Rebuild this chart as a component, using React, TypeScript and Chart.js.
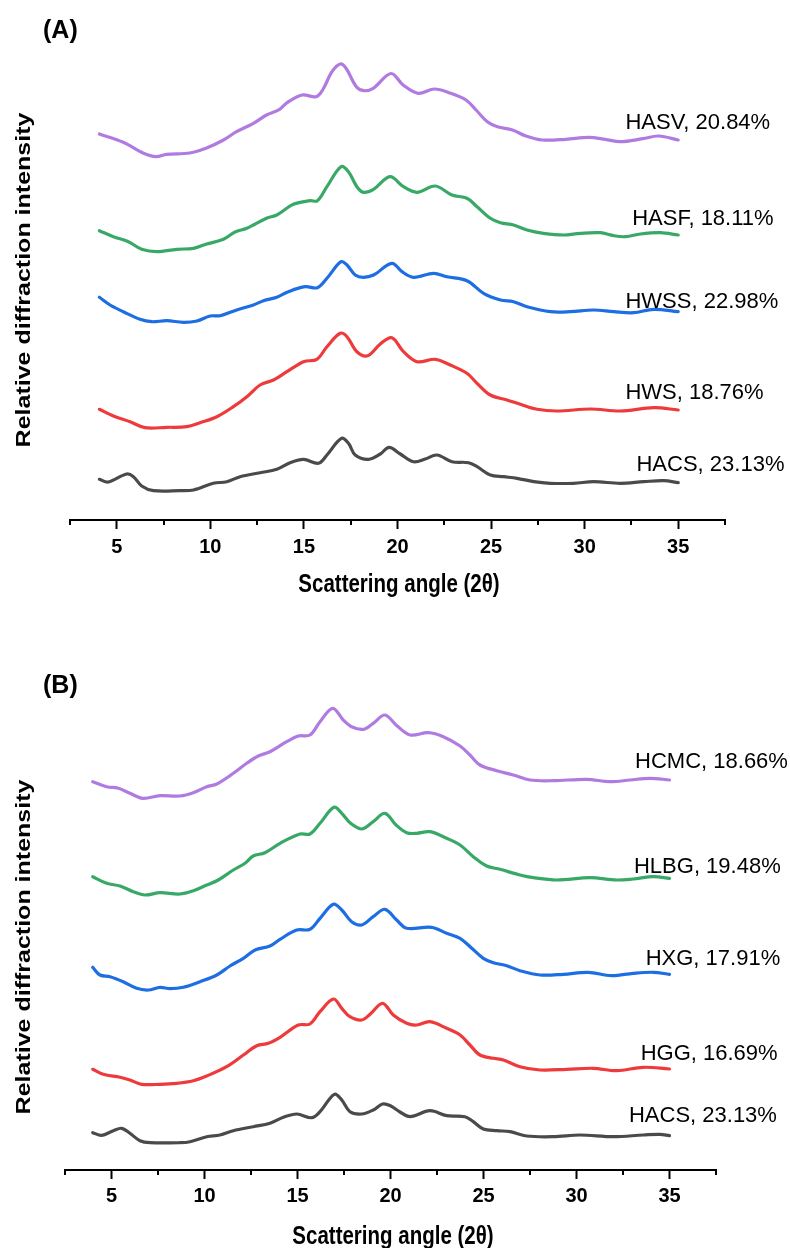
import React, { useEffect, useRef } from 'react';
import { Chart, registerables } from 'chart.js';

Chart.register(...registerables);

// ---------- DATA (2θ in degrees, relative intensity in arbitrary units, curves stacked) ----------
const thetaMin = 2.5;
const thetaMax = 37.5;
const thetaStep = 2.5;

const namesA = ['HASV, 20.84%', 'HASF, 18.11%', 'HWSS, 22.98%', 'HWS, 18.76%', 'HACS, 23.13%'];
const namesB = ['HCMC, 18.66%', 'HLBG, 19.48%', 'HXG, 17.91%', 'HGG, 16.69%', 'HACS, 23.13%'];

const A_HASV: [number, number][] = [
  [4.07, 386], [5.35, 377.7], [6.4, 367], [7.1, 363.3], [7.65, 365.7], [8.9, 367], [9.8, 372],
  [10.7, 380], [11.4, 388.3], [12.3, 396.7], [13.0, 405], [13.7, 410.7], [14.1, 417.3], [14.9, 425],
  [15.66, 423.3], [16.0, 430], [16.5, 448.3], [16.94, 456], [17.25, 451.7], [17.8, 433.3], [18.2, 429.3],
  [18.7, 431.7], [19.65, 446.5], [20.3, 435], [21.1, 426.7], [21.97, 431], [22.85, 426.7], [23.66, 420],
  [24.2, 410], [24.8, 398.3], [25.34, 393.3], [26.14, 390], [26.86, 384], [27.74, 380], [28.99, 380.7],
  [30.23, 382.7], [31.1, 380.7], [31.9, 378.3], [33.1, 381.3], [33.96, 384], [35.0, 380],
];
const A_HASF: [number, number][] = [
  [4.07, 289.3], [4.82, 283.3], [5.62, 278.3], [6.33, 270.7], [7.14, 268.3], [8.2, 270.7], [9.1, 271.7],
  [9.8, 276], [10.7, 280.7], [11.32, 288], [11.95, 291.7], [13.0, 301.7], [13.55, 305], [14.44, 315.7],
  [15.33, 319.3], [15.72, 319.3], [16.23, 333.3], [16.98, 353.3], [17.38, 348.3], [17.83, 333.3],
  [18.18, 327.7], [18.72, 330.7], [19.6, 343.3], [20.32, 333.3], [21.04, 327.7], [22.02, 334], [22.91, 325],
  [23.71, 321.7], [24.25, 313.3], [24.96, 301.7], [25.5, 297.3], [26.2, 295], [26.92, 290], [27.8, 286.7],
  [28.88, 285], [29.77, 286.7], [30.84, 287.3], [31.55, 284.3], [32.18, 283.3], [32.98, 286], [34.05, 287.3],
  [35.0, 285],
];
const A_HWSS: [number, number][] = [
  [4.07, 222.7], [4.64, 215], [5.35, 208.3], [6.24, 200.7], [6.87, 198.3], [7.67, 199.3], [8.56, 197.7],
  [9.28, 199], [9.99, 204], [10.52, 204.3], [11.41, 210], [12.3, 215], [12.84, 219.3], [13.55, 222.7],
  [14.17, 228.3], [15.07, 233.3], [15.72, 232.3], [16.23, 241.7], [16.98, 258.3], [17.3, 255], [17.74, 245],
  [18.18, 242.7], [18.72, 245], [19.7, 256.7], [20.24, 248.3], [20.86, 242.7], [21.93, 246.7], [22.64, 243.3],
  [23.71, 239.3], [24.6, 226.7], [25.5, 220], [26.2, 218.3], [26.92, 213.3], [28.17, 208.3], [29.24, 208.3],
  [30.48, 210], [31.55, 208.3], [32.62, 207.3], [33.69, 210.7], [35.0, 208.3],
];
const A_HWS: [number, number][] = [
  [4.07, 110.7], [4.82, 104], [5.71, 98.3], [6.51, 92.3], [7.67, 92.7], [8.74, 93.3], [9.45, 97.3],
  [10.35, 103.3], [11.23, 113.3], [11.95, 123.3], [12.66, 135], [13.37, 140], [14.09, 148.3], [14.98, 158.3],
  [15.69, 160.7], [16.23, 173.3], [16.94, 186.7], [17.3, 183.3], [17.83, 168.3], [18.4, 164.3], [19.08, 176],
  [19.7, 182.3], [20.32, 168.3], [21.04, 158.3], [22.02, 160.7], [22.82, 155], [23.71, 146.7], [24.25, 136.7],
  [24.96, 125], [25.85, 120], [26.56, 115.7], [27.46, 110.7], [28.53, 109], [30.31, 111], [31.91, 109],
  [33.69, 112.3], [35.0, 110],
];
const A_HACS: [number, number][] = [
  [4.07, 40.7], [4.55, 38], [5.53, 46], [5.89, 43.3], [6.33, 34], [6.96, 29.3], [8.38, 29.3], [9.1, 30],
  [10.16, 36.7], [10.88, 38.3], [11.59, 43.3], [12.66, 47.3], [13.55, 50.7], [14.26, 57.3], [14.98, 60.7],
  [15.78, 56.7], [16.23, 65], [17.0, 81.7], [17.38, 76.7], [17.74, 65], [18.45, 60.7], [19.08, 66],
  [19.55, 72.7], [20.15, 66], [20.86, 58.3], [21.48, 61], [22.11, 65], [22.91, 58.3], [23.8, 57.3],
  [24.25, 53.3], [24.96, 45], [25.67, 43.3], [26.39, 41.7], [27.28, 38.3], [28.17, 36.7], [29.41, 36.7],
  [30.48, 38.3], [31.91, 36.7], [33.16, 38.3], [34.23, 39.3], [35.0, 37.3],
];

const B_HCMC: [number, number][] = [
  [3.99, 388.3], [4.74, 383.3], [5.37, 381.7], [5.99, 376.7], [6.68, 371.7], [7.61, 374.3], [8.68, 374],
  [9.4, 377.3], [10.12, 383.3], [10.66, 386], [11.55, 396.7], [12.27, 406.7], [12.89, 414], [13.52, 418.3],
  [14.42, 428.3], [15.04, 434], [15.67, 435], [16.21, 448.3], [16.89, 461.7], [17.46, 450], [17.91, 443.3],
  [18.54, 440.7], [19.07, 446.7], [19.7, 455], [20.33, 444.5], [21.05, 435], [22.03, 437.3], [22.84, 433.3],
  [23.74, 424], [24.27, 415], [24.81, 405], [25.71, 399.3], [26.6, 395], [27.5, 390], [28.75, 389.3],
  [30.55, 390.7], [31.8, 388.3], [32.88, 390], [33.95, 391.7], [35.0, 390],
];
const B_HLBG: [number, number][] = [
  [3.99, 293.3], [4.74, 286.7], [5.46, 284], [6.17, 278.3], [6.8, 275], [7.61, 277.3], [8.68, 276],
  [9.4, 279.3], [10.12, 285], [10.74, 290], [11.55, 300], [12.18, 306.7], [12.62, 314], [13.25, 317.3],
  [14.06, 326.7], [15.13, 336], [15.67, 336], [16.21, 346.7], [16.96, 362.7], [17.38, 356.7], [17.82, 347.3],
  [18.45, 341], [19.07, 348.3], [19.7, 356.7], [20.3, 345], [20.87, 337.3], [21.41, 336.7], [22.12, 338.3],
  [23.02, 331.7], [23.74, 325], [24.45, 313.3], [25.17, 304], [25.89, 300.7], [26.96, 295], [27.68, 292.3],
  [28.94, 290], [30.73, 292.3], [32.16, 290], [33.05, 291], [34.13, 293.3], [35.0, 291.7],
];
const B_HXG: [number, number][] = [
  [3.99, 202.7], [4.38, 195], [4.92, 193.3], [5.63, 188.3], [6.35, 181.7], [6.98, 180], [7.61, 182.7],
  [8.15, 181.3], [8.86, 182.7], [9.76, 188.3], [10.66, 195], [11.37, 204], [12.09, 211.7], [12.72, 220],
  [13.52, 224], [14.06, 230.7], [14.96, 240], [15.67, 240.7], [16.21, 251.7], [16.93, 265.7], [17.38, 260],
  [17.91, 248.3], [18.45, 245], [19.07, 253.3], [19.7, 260.7], [20.33, 250], [20.87, 241.7], [22.21, 242.7],
  [23.02, 236.7], [23.74, 231.7], [24.37, 221.7], [24.99, 211.7], [25.53, 207.3], [26.25, 204.3],
  [26.96, 199.3], [28.04, 195], [29.29, 195.7], [30.63, 197.7], [31.89, 194.3], [33.05, 196.7],
  [34.13, 197.7], [35.0, 195.7],
];
const B_HGG: [number, number][] = [
  [3.99, 100.7], [4.56, 95.7], [5.46, 92.7], [5.99, 90], [6.62, 85.7], [7.61, 85.7], [8.5, 86.7], [9.4, 89.3],
  [10.12, 94], [11.19, 103.3], [12.09, 115], [12.81, 124.3], [13.43, 126.7], [14.06, 132.7], [15.04, 145],
  [15.67, 146], [16.21, 158.3], [16.93, 171], [17.38, 161.7], [17.82, 153.3], [18.45, 150], [18.9, 155.7],
  [19.57, 166.7], [20.15, 155], [20.87, 146.7], [21.41, 145], [22.12, 148.3], [23.02, 141.7], [23.74, 135],
  [24.27, 125], [24.81, 115], [25.53, 111.7], [26.07, 110], [26.96, 103.3], [28.04, 100], [29.47, 100.7],
  [30.9, 101.7], [32.16, 99.3], [33.59, 102.7], [35.0, 101],
];
const B_HACS: [number, number][] = [
  [3.99, 37.3], [4.47, 34.7], [5.1, 39.3], [5.55, 41.7], [5.99, 36.7], [6.53, 29.3], [7.07, 27.3],
  [8.68, 27.3], [9.22, 28.3], [10.12, 33.3], [10.83, 35], [11.55, 39.3], [12.62, 43.3], [13.52, 46.7],
  [14.24, 52.7], [14.96, 56], [15.76, 52.3], [16.21, 58.3], [16.98, 75.7], [17.38, 70], [17.82, 58.3],
  [18.45, 56], [19.07, 60], [19.57, 66], [19.97, 64.5], [20.51, 58], [21.05, 53.3], [22.12, 59.3],
  [23.02, 54.3], [24.0, 53.3], [24.45, 48.3], [24.99, 41], [25.71, 39.3], [26.43, 38.3], [27.32, 34],
  [28.75, 33.3], [30.19, 35], [31.98, 33.3], [33.59, 35], [34.49, 35.7], [35.0, 34.3],
];

// ---------- STYLE / LAYOUT ----------
const colors = ['#B07BE0', '#38A866', '#1D6DE3', '#EE3A3A', '#4A4A4A'];

type Panel = {
  tag: string;
  series: [number, number][][];
  names: string[];
  labelPos: { x: number; y: number }[]; // in data units (θ, intensity) – text baseline-left
  height: number;
  top: number;
  pad: { left: number; right: number; top: number };
  axisHeight: number;
  tickPad: number;
  tagPos: { x: number; y: number };
  yTitle: { x: number; y: number };
  xTitle: { x: number; y: number };
};

const panels: Panel[] = [
  {
    tag: '(A)',
    series: [A_HASV, A_HASF, A_HWSS, A_HWS, A_HACS],
    names: namesA,
    labelPos: [
      { x: 32.18, y: 390.7 }, { x: 32.54, y: 295 }, { x: 32.18, y: 212.3 }, { x: 32.18, y: 121 }, { x: 32.77, y: 49 },
    ],
    height: 620,
    top: 0,
    pad: { left: 70, right: 65, top: 40 },
    axisHeight: 100,
    tickPad: 6,
    tagPos: { x: 43, y: 31 },
    yTitle: { x: 24, y: 280 },
    xTitle: { x: 399, y: 585 },
  },
  {
    tag: '(B)',
    series: [B_HCMC, B_HLBG, B_HXG, B_HGG, B_HACS],
    names: namesB,
    labelPos: [
      { x: 33.15, y: 401.7 }, { x: 33.09, y: 296.7 }, { x: 33.72, y: 205 }, { x: 33.45, y: 110 }, { x: 32.82, y: 48.3 },
    ],
    height: 628,
    top: 620,
    pad: { left: 65, right: 74, top: 70 },
    axisHeight: 78,
    tickPad: 5,
    tagPos: { x: 43, y: 66 },
    yTitle: { x: 24, y: 327 },
    xTitle: { x: 393, y: 617 },
  },
];

const isMajor = (v: number) => Math.abs(v / 5 - Math.round(v / 5)) < 1e-6;

function XrdPanel({ p }: { p: Panel }) {
  const ref = useRef<HTMLCanvasElement | null>(null);
  useEffect(() => {
    if (!ref.current) return;
    const textPlugin = {
      id: 'xrdText',
      afterDraw(chart: any) {
        const ctx = chart.ctx as CanvasRenderingContext2D;
        const xs = chart.scales.x;
        const ys = chart.scales.y;
        ctx.save();
        // minor ticks
        ctx.strokeStyle = '#000';
        ctx.lineWidth = 2;
        xs.ticks.forEach((t: any) => {
          if (!isMajor(t.value)) {
            const px = Math.round(xs.getPixelForValue(t.value));
            ctx.beginPath();
            ctx.moveTo(px, xs.top);
            ctx.lineTo(px, xs.top + 5);
            ctx.stroke();
          }
        });
        ctx.fillStyle = '#000';
        // panel tag
        ctx.font = 'bold 25px "Liberation Sans", Arial, sans-serif';
        ctx.textAlign = 'left';
        ctx.textBaseline = 'middle';
        ctx.fillText(p.tag, p.tagPos.x, p.tagPos.y);
        // y title
        ctx.save();
        ctx.translate(p.yTitle.x, p.yTitle.y);
        ctx.rotate(-Math.PI / 2);
        ctx.scale(1, 0.8);
        ctx.font = 'bold 25px "Liberation Sans", Arial, sans-serif';
        ctx.textAlign = 'center';
        ctx.textBaseline = 'middle';
        ctx.fillText('Relative diffraction intensity', 0, 0);
        ctx.restore();
        // x title
        ctx.save();
        ctx.translate(p.xTitle.x, p.xTitle.y);
        ctx.scale(0.82, 1);
        ctx.font = 'bold 25px "Liberation Sans", Arial, sans-serif';
        ctx.textAlign = 'center';
        ctx.textBaseline = 'middle';
        ctx.fillText('Scattering angle (2θ)', 0, 0);
        ctx.restore();
        // series labels
        ctx.font = '22px "Liberation Sans", Arial, sans-serif';
        ctx.textAlign = 'left';
        ctx.textBaseline = 'alphabetic';
        p.names.forEach((n, i) => {
          const lp = p.labelPos[i];
          ctx.fillText(n, xs.getPixelForValue(lp.x), ys.getPixelForValue(lp.y));
        });
        ctx.restore();
      },
    };

    const chart = new Chart(ref.current, {
      type: 'line',
      data: {
        datasets: p.series.map((s, i) => ({
          label: p.names[i],
          data: s.map(([x, y]) => ({ x, y })),
          borderColor: colors[i],
          backgroundColor: colors[i],
          borderWidth: 3.2,
          pointRadius: 0,
          fill: false,
          tension: 0.35,
          borderCapStyle: 'round' as const,
          borderJoinStyle: 'round' as const,
        })),
      },
      options: {
        responsive: false,
        animation: false,
        devicePixelRatio: 1,
        layout: { padding: { left: p.pad.left, right: p.pad.right, top: p.pad.top, bottom: 0 } },
        plugins: { legend: { display: false }, tooltip: { enabled: false }, title: { display: false } },
        scales: {
          x: {
            type: 'linear',
            min: thetaMin,
            max: thetaMax,
            afterFit: (s: any) => {
              s.height = p.axisHeight;
            },
            border: { display: true, color: '#000', width: 2 },
            grid: {
              drawOnChartArea: false,
              drawTicks: true,
              tickLength: 9,
              tickWidth: 2,
              tickColor: (c: any) => (c.tick && isMajor(c.tick.value) ? '#000' : 'rgba(0,0,0,0)'),
            },
            ticks: {
              stepSize: thetaStep,
              autoSkip: false,
              maxRotation: 0,
              minRotation: 0,
              padding: p.tickPad,
              color: '#000',
              font: { family: '"Liberation Sans Narrow", "Arial Narrow", "Liberation Sans", Arial', size: 20, weight: 'bold', lineHeight: 1.2 },
              callback: (v: any) => (isMajor(Number(v)) ? String(v) : ''),
            },
          },
          y: { type: 'linear', display: false, min: 0, max: 480 },
        },
      },
      plugins: [textPlugin],
    } as any);
    return () => chart.destroy();
  }, [p]);
  return (
    <canvas
      ref={ref}
      width={790}
      height={p.height}
      style={{ position: 'absolute', left: 0, top: p.top, width: 790, height: p.height, display: 'block' }}
    />
  );
}

export default function App() {
  return (
    <div style={{ position: 'absolute', left: 0, top: 0, width: 790, height: 1248, background: '#fff', overflow: 'hidden' }}>
      {panels.map((p) => (
        <XrdPanel key={p.tag} p={p} />
      ))}
    </div>
  );
}
